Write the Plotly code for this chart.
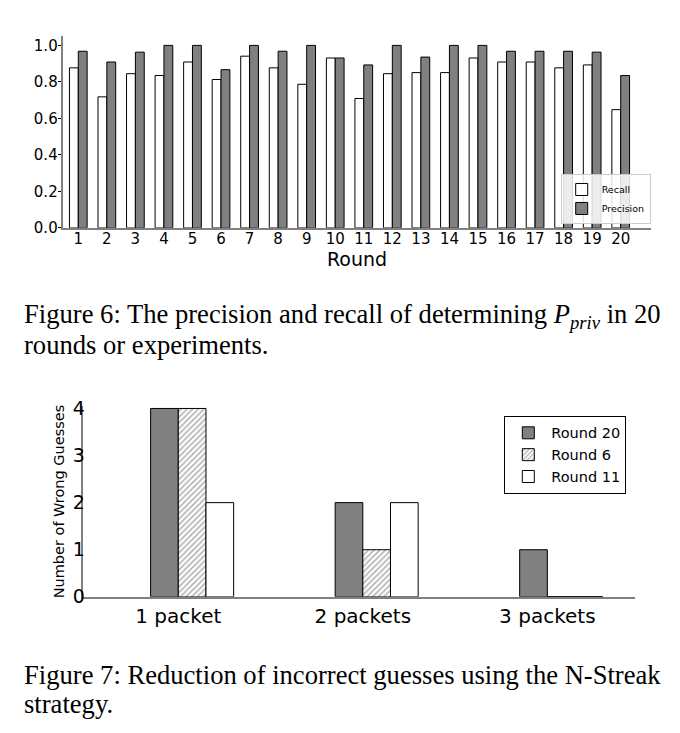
import plotly.graph_objects as go

# ---------------- data ----------------
rounds = list(range(1, 21))
recall = [0.877, 0.718, 0.845, 0.835, 0.909, 0.813, 0.941, 0.877, 0.787, 0.931,
          0.709, 0.845, 0.851, 0.851, 0.931, 0.909, 0.909, 0.877, 0.893, 0.648]
precision = [0.968, 0.909, 0.963, 1.0, 1.0, 0.867, 1.0, 0.968, 1.0, 0.931,
             0.893, 1.0, 0.936, 1.0, 1.0, 0.968, 0.968, 0.968, 0.963, 0.835]
y_ticks_top = [0.0, 0.2, 0.4, 0.6, 0.8, 1.0]

packets = ["1 packet", "2 packets", "3 packets"]
round20 = [4, 2, 1]
round6 = [4, 1, 0]
round11 = [2, 2, 0]
y_ticks_bottom = [0, 1, 2, 3, 4]

W, H = 680, 733
def px_x(p):
    return p / W
def px_y(p):
    return 1 - p / H

FONT = "DejaVu Sans"
SERIF = "Liberation Serif"
GRAY = "#808080"

fig = go.Figure()

# ---------------- top chart ----------------
w_top = 0.31
fig.add_trace(go.Bar(x=rounds, y=recall, width=w_top, offset=-w_top, name="Recall",
                     marker=dict(color="white", line=dict(color="black", width=1)),
                     xaxis="x", yaxis="y", legend="legend"))
fig.add_trace(go.Bar(x=rounds, y=precision, width=w_top, offset=0, name="Precision",
                     marker=dict(color=GRAY, line=dict(color="black", width=1)),
                     xaxis="x", yaxis="y", legend="legend"))

# ---------------- bottom chart ----------------
w_b = 0.15
xpos = list(range(len(packets)))
series_b = [
    ("Round 20", round20, -w_b, dict(color=GRAY, line=dict(color="black", width=1))),
    ("Round 6", round6, 0.0, dict(color="white", line=dict(color="black", width=1),
                                  pattern=dict(shape="/", fgcolor="#666666", bgcolor="white",
                                               size=4, solidity=0.4))),
    ("Round 11", round11, w_b, dict(color="white", line=dict(color="black", width=1))),
]
for name, vals, off, mk in series_b:
    fig.add_trace(go.Bar(x=xpos, y=vals, width=w_b, offset=off, name=name, marker=mk,
                         xaxis="x2", yaxis="y2", legend="legend2"))
# outlines of zero-height bars
zx, zy = [], []
for name, vals, off, mk in series_b:
    for i, v in enumerate(vals):
        if v == 0:
            zx += [xpos[i] + off, xpos[i] + off + w_b, None]
            zy += [0, 0, None]
fig.add_trace(go.Scatter(x=zx, y=zy, mode="lines", line=dict(color="black", width=1),
                         showlegend=False, hoverinfo="skip", xaxis="x2", yaxis="y2"))

fig.update_layout(
    width=W, height=H, margin=dict(l=0, r=0, t=0, b=0),
    paper_bgcolor="white", plot_bgcolor="white",
    barmode="overlay",
    font=dict(family=FONT, color="black"),
    xaxis=dict(domain=[px_x(62.7), px_x(650.7)], range=[0.454, 21.05],
               tickmode="array", tickvals=rounds, ticktext=[str(r) for r in rounds],
               tickfont=dict(size=15), showgrid=False, zeroline=False,
               showline=True, linecolor=GRAY, linewidth=2, ticks="",
               ticklabelstandoff=-4, anchor="y"),
    yaxis=dict(domain=[px_y(225), px_y(27.3)], range=[0, 1.054],
               tickmode="array", tickvals=y_ticks_top,
               ticktext=["%.1f" % v for v in y_ticks_top],
               tickfont=dict(size=15), showgrid=False, zeroline=False,
               showline=True, linecolor=GRAY, linewidth=2,
               ticks="outside", ticklen=3, tickcolor="black",
               ticklabelstandoff=-3, anchor="x"),
    xaxis2=dict(domain=[px_x(82.7), px_x(635)], range=[-0.518, 2.475],
                tickmode="array", tickvals=xpos, ticktext=packets,
                tickfont=dict(size=20), showgrid=False, zeroline=False,
                showline=True, linecolor=GRAY, linewidth=2, ticks="",
                anchor="y2"),
    yaxis2=dict(domain=[px_y(604.3), px_y(408)], range=[0, 4.055],
                tickmode="array", tickvals=y_ticks_bottom,
                ticktext=[str(v) for v in y_ticks_bottom],
                tickfont=dict(size=19), showgrid=False, zeroline=False,
                showline=True, linecolor=GRAY, linewidth=2, ticks="",
                ticklabelstandoff=-8,
                anchor="x2"),
    legend=dict(x=px_x(560.7), y=px_y(221), xanchor="left", yanchor="bottom",
                bgcolor="rgba(255,255,255,0.85)", bordercolor="#cccccc", borderwidth=1,
                font=dict(size=9.5), tracegroupgap=0, itemwidth=30),
    legend2=dict(x=px_x(504.3), y=px_y(418.3), xanchor="left", yanchor="top",
                 bgcolor="white", bordercolor="black", borderwidth=1,
                 font=dict(size=14.5), tracegroupgap=0, itemwidth=36),
    showlegend=True,
)

# axis titles as annotations (placed where the reference shows them)
fig.add_annotation(text="Round", x=0.5, y=px_y(256.5), xref="x domain", yref="paper",
                   xanchor="center", yanchor="middle", showarrow=False,
                   font=dict(family=FONT, size=19, color="black"))
fig.add_annotation(text="Number of Wrong Guesses", x=px_x(59), y=0.5, xref="paper",
                   yref="y2 domain", xanchor="center", yanchor="middle", textangle=-90,
                   showarrow=False, font=dict(family=FONT, size=14.5, color="black"))

# ---------------- captions ----------------
cap_font = dict(family=SERIF, size=26.6, color="black")
captions = [
    ("Figure 6: The precision and recall of determining <i>P</i><sub><i>priv</i></sub> in 20", 316),
    ("rounds or experiments.", 345),
    ("Figure 7: Reduction of incorrect guesses using the N-Streak", 685),
    ("strategy.", 715),
]
for txt, yc in captions:
    fig.add_annotation(text=txt, x=px_x(22), y=px_y(yc), xref="paper", yref="paper",
                       xanchor="left", yanchor="middle", showarrow=False, font=cap_font)

fig.write_html("out.html")
